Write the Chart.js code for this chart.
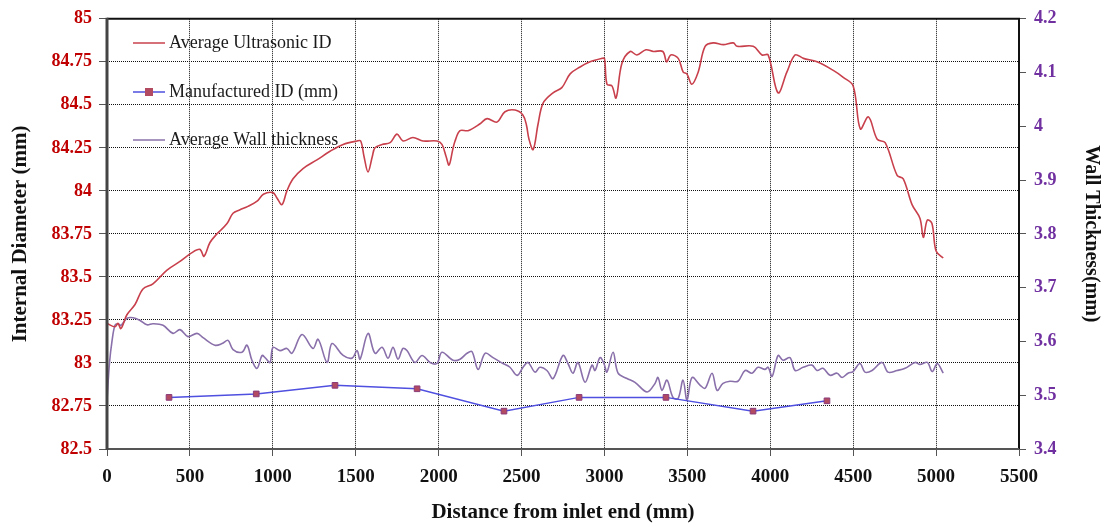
<!DOCTYPE html>
<html>
<head>
<meta charset="utf-8">
<script src="https://cdn.jsdelivr.net/npm/chart.js@4"></script>
<style>
  html, body { margin: 0; padding: 0; background: #fff; }
  canvas { display: block; }
</style>
</head>
<body>
<canvas id="pipeChart" width="1107" height="527"></canvas>
<script>
// Average Ultrasonic ID (left axis, mm)
const idDistance = [0, 48, 66, 84, 120, 169, 217, 277, 362, 440, 510, 560, 585, 621, 663, 724, 760, 802, 850, 905,
  943, 1000, 1024, 1055, 1085, 1122, 1182, 1266, 1345, 1424, 1508, 1530, 1550, 1574, 1600, 1616, 1659, 1707, 1749, 1785,
  1845, 1906, 1990, 2020, 2045, 2063, 2085, 2099, 2129, 2177, 2250, 2292, 2352, 2400, 2461, 2509, 2530, 2545, 2570, 2600,
  2630, 2690, 2743, 2793, 2853, 2913, 2985, 3000, 3015, 3045, 3070, 3105, 3155, 3195, 3250, 3295, 3352, 3375, 3400, 3445,
  3475, 3497, 3527, 3565, 3607, 3656, 3717, 3777, 3800, 3897, 3950, 3987, 4047, 4100, 4150, 4200, 4282, 4380, 4440, 4500,
  4543, 4592, 4645, 4693, 4765, 4802, 4855, 4903, 4923, 4947, 4975, 5000, 5043];
const idValues = [83.23, 83.21, 83.23, 83.20, 83.28, 83.34, 83.43, 83.46, 83.54, 83.59, 83.64, 83.66, 83.62, 83.70, 83.75, 83.81, 83.87, 83.89, 83.91, 83.94,
  83.98, 83.99, 83.96, 83.92, 84.00, 84.07, 84.13, 84.18, 84.23, 84.27, 84.29, 84.29, 84.20, 84.11, 84.20, 84.25, 84.27, 84.28, 84.33, 84.29,
  84.31, 84.29, 84.29, 84.27, 84.20, 84.15, 84.24, 84.29, 84.35, 84.35, 84.39, 84.42, 84.40, 84.46, 84.47, 84.44, 84.38, 84.30, 84.24, 84.39,
  84.51, 84.57, 84.60, 84.68, 84.72, 84.75, 84.77, 84.77, 84.62, 84.61, 84.54, 84.74, 84.81, 84.79, 84.82, 84.81, 84.81, 84.75, 84.79, 84.77,
  84.69, 84.68, 84.62, 84.69, 84.84, 84.86, 84.85, 84.86, 84.84, 84.84, 84.79, 84.79, 84.57, 84.69, 84.79, 84.77, 84.75, 84.70, 84.66, 84.61,
  84.36, 84.43, 84.30, 84.28, 84.09, 84.07, 83.92, 83.84, 83.73, 83.83, 83.81, 83.65, 83.61];

// Manufactured ID (left axis, mm)
const mfgDistance = [374, 900, 1375, 1870, 2394, 2847, 3371, 3896, 4342];
const mfgValues = [82.80, 82.82, 82.87, 82.85, 82.72, 82.80, 82.80, 82.72, 82.78];

// Average Wall thickness (right axis, mm)
const wallDistance = [0, 15, 30, 48, 66, 84, 120, 157, 199, 241, 277, 338, 398, 440, 488, 543, 579, 651, 694, 730,
  760, 814, 844, 874, 905, 935, 953, 983, 1001, 1043, 1085, 1116, 1176, 1242, 1273, 1327, 1357, 1424, 1478, 1508,
  1526, 1574, 1616, 1659, 1695, 1725, 1755, 1785, 1809, 1857, 1900, 1948, 1990, 2020, 2087, 2129, 2171, 2201, 2238, 2280,
  2328, 2388, 2430, 2473, 2509, 2539, 2581, 2611, 2653, 2690, 2750, 2780, 2810, 2840, 2883, 2925, 2943, 2973, 2997, 3015,
  3052, 3082, 3136, 3184, 3257, 3305, 3323, 3347, 3377, 3413, 3444, 3474, 3498, 3528, 3576, 3607, 3649, 3679, 3715, 3757,
  3805, 3848, 3890, 3926, 3968, 3987, 4011, 4047, 4077, 4119, 4150, 4198, 4252, 4282, 4318, 4360, 4403, 4433, 4469, 4499,
  4541, 4571, 4614, 4674, 4710, 4765, 4813, 4873, 4903, 4947, 4977, 5007, 5043];
const wallValues = [3.49, 3.56, 3.60, 3.63, 3.633, 3.63, 3.643, 3.644, 3.639, 3.631, 3.633, 3.630, 3.615, 3.622, 3.609, 3.615, 3.607, 3.593, 3.596, 3.602,
  3.585, 3.580, 3.593, 3.565, 3.550, 3.574, 3.570, 3.561, 3.589, 3.583, 3.587, 3.578, 3.613, 3.587, 3.604, 3.561, 3.596, 3.574, 3.569, 3.583,
  3.567, 3.615, 3.578, 3.589, 3.569, 3.589, 3.567, 3.587, 3.583, 3.561, 3.574, 3.561, 3.559, 3.580, 3.565, 3.567, 3.578, 3.581, 3.548, 3.578,
  3.570, 3.559, 3.552, 3.537, 3.552, 3.561, 3.543, 3.552, 3.546, 3.531, 3.574, 3.559, 3.541, 3.561, 3.524, 3.556, 3.546, 3.570, 3.559, 3.543,
  3.580, 3.541, 3.531, 3.524, 3.506, 3.522, 3.533, 3.509, 3.528, 3.496, 3.494, 3.528, 3.491, 3.533, 3.519, 3.513, 3.541, 3.509, 3.522, 3.526,
  3.526, 3.546, 3.541, 3.552, 3.548, 3.552, 3.535, 3.574, 3.565, 3.570, 3.546, 3.552, 3.556, 3.546, 3.550, 3.537, 3.541, 3.533, 3.541, 3.544,
  3.559, 3.543, 3.546, 3.561, 3.543, 3.546, 3.550, 3.561, 3.557, 3.561, 3.544, 3.559, 3.541];

// Axis ranges / ticks
const distanceTicks = [0, 5500, 500];
const idTicks = [82.5, 85, 0.25];
const wallTicks = [3.4, 4.2, 0.1];

const serif = '"Liberation Serif", "Times New Roman", serif';

function toPoints(xs, ys) {
    return xs.map((x, i) => ({ x: x, y: ys[i] }));
}

// Подписи без лишних нулей и разделителей
const plainNumber = v => String(Number(v.toFixed(2)));

// Легенда внутри области графика
const insideLegend = {
    id: 'insideLegend',
    afterDraw(chart) {
        const ctx = chart.ctx;
        const rows = [43, 92, 140];
        ctx.save();
        ctx.font = '18px ' + serif;
        ctx.textBaseline = 'middle';
        chart.data.datasets.forEach((ds, i) => {
            const y = rows[i];
            ctx.strokeStyle = ds.borderColor;
            ctx.lineWidth = 1.5;
            ctx.beginPath();
            ctx.moveTo(133, y);
            ctx.lineTo(165, y);
            ctx.stroke();
            if (ds.pointRadius > 0) {
                ctx.fillStyle = ds.pointBackgroundColor;
                ctx.fillRect(145, y - 4, 8, 8);
            }
            ctx.fillStyle = '#1a1a1a';
            ctx.fillText(ds.label, 169, y);
        });
        ctx.restore();
    }
};

// Рамка области графика
const plotFrame = {
    id: 'plotFrame',
    afterDraw(chart) {
        const a = chart.chartArea;
        const ctx = chart.ctx;
        ctx.save();
        ctx.strokeStyle = '#111';
        ctx.lineWidth = 2;
        ctx.beginPath();
        ctx.moveTo(a.left, a.top);
        ctx.lineTo(a.right, a.top);
        ctx.lineTo(a.right, a.bottom);
        ctx.stroke();
        ctx.strokeStyle = '#555';
        ctx.beginPath();
        ctx.moveTo(a.left, a.bottom);
        ctx.lineTo(a.right, a.bottom);
        ctx.stroke();
        ctx.strokeStyle = '#444';
        ctx.lineWidth = 3;
        ctx.beginPath();
        ctx.moveTo(a.left, a.top - 1);
        ctx.lineTo(a.left, a.bottom + 1);
        ctx.stroke();
        ctx.restore();
    }
};

new Chart(document.getElementById('pipeChart'), {
    type: 'line',
    data: {
        datasets: [{
            label: 'Average Ultrasonic ID',
            data: toPoints(idDistance, idValues),
            yAxisID: 'y',
            borderColor: '#C8404C',
            borderWidth: 1.6,
            pointRadius: 0,
            tension: 0.35
        }, {
            label: 'Manufactured ID (mm)',
            data: toPoints(mfgDistance, mfgValues),
            yAxisID: 'y',
            borderColor: '#4F4FE0',
            borderWidth: 1.5,
            pointStyle: 'rect',
            pointRadius: 4,
            pointBackgroundColor: '#B24A62',
            pointBorderColor: '#8A3C7A',
            pointBorderWidth: 1
        }, {
            label: 'Average Wall thickness',
            data: toPoints(wallDistance, wallValues),
            yAxisID: 'y2',
            borderColor: '#8A70AA',
            borderWidth: 1.6,
            pointRadius: 0,
            tension: 0.35
        }]
    },
    options: {
        responsive: false,
        animation: false,
        layout: { padding: { top: 17, left: 0, right: 0, bottom: 0 } },
        plugins: {
            legend: { display: false },
            tooltip: { enabled: false }
        },
        scales: {
            x: {
                type: 'linear',
                min: distanceTicks[0],
                max: distanceTicks[1],
                afterFit: s => { s.height = 78; },
                ticks: {
                    stepSize: distanceTicks[2],
                    color: '#111',
                    padding: 10,
                    maxRotation: 0,
                    font: { family: serif, size: 19, weight: 'bold' },
                    callback: plainNumber
                },
                grid: { color: '#111', tickColor: '#555', tickLength: 7, tickBorderDash: [] },
                border: { display: false, dash: [1, 1] },
                title: {
                    display: true,
                    text: 'Distance from inlet end (mm)',
                    color: '#111',
                    padding: { top: 0, bottom: 2 },
                    font: { family: serif, size: 21, weight: 'bold' }
                }
            },
            y: {
                position: 'left',
                min: idTicks[0],
                max: idTicks[1],
                afterFit: s => { s.width = 107; },
                ticks: {
                    stepSize: idTicks[2],
                    color: '#C00000',
                    padding: 7,
                    font: { family: serif, size: 18, weight: 'bold' },
                    callback: plainNumber
                },
                grid: { color: '#111', tickColor: '#555', tickLength: 8 },
                border: { display: false, dash: [1, 1] },
                title: {
                    display: true,
                    text: 'Internal Diameter (mm)',
                    color: '#111',
                    padding: { top: 8, bottom: 0 },
                    font: { family: serif, size: 21, weight: 'bold' }
                }
            },
            y2: {
                position: 'right',
                min: wallTicks[0],
                max: wallTicks[1],
                afterFit: s => { s.width = 88; },
                ticks: {
                    stepSize: wallTicks[2],
                    color: '#7030A0',
                    padding: 8,
                    font: { family: serif, size: 18, weight: 'bold' },
                    callback: plainNumber
                },
                grid: { drawOnChartArea: false, color: '#555', tickLength: 7 },
                border: { display: false },
                title: {
                    display: true,
                    text: 'Wall Thickness(mm)',
                    color: '#111',
                    padding: { top: 4, bottom: 0 },
                    font: { family: serif, size: 20, weight: 'bold' }
                }
            }
        }
    },
    plugins: [plotFrame, insideLegend]
});
</script>
</body>
</html>
